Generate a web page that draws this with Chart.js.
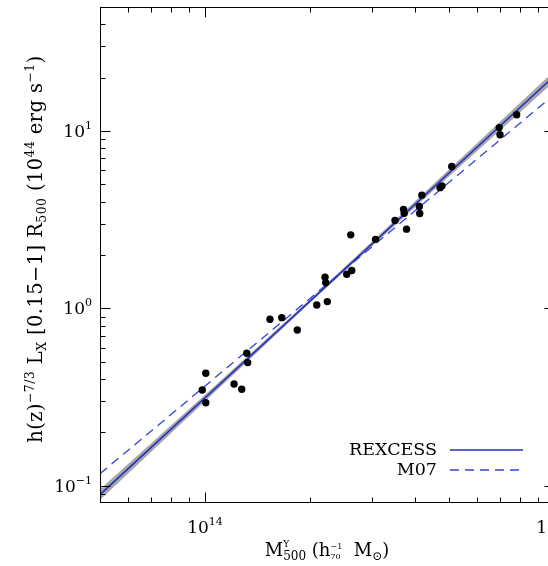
<!DOCTYPE html>
<html>
<head>
<meta charset="utf-8">
<script src="https://cdn.jsdelivr.net/npm/chart.js@4.4.0/dist/chart.umd.min.js"></script>
<style>
  html, body { margin: 0; padding: 0; background: #fff; overflow: hidden; }
  #wrap { width: 548px; height: 566px; overflow: hidden; }
</style>
</head>
<body>
<div id="wrap"><canvas id="chartLM" width="560" height="566"></canvas></div>
<script>
// data (mass in Msun, luminosity in 1e44 erg/s)
const massY = [1.005e14, 0.982e14, 1.005e14, 1.211e14, 1.274e14, 1.317e14, 1.325e14, 1.535e14,
  1.659e14, 1.838e14, 2.090e14, 2.241e14, 2.207e14, 2.217e14, 2.615e14, 2.633e14, 2.547e14,
  3.080e14, 3.503e14, 3.705e14, 3.722e14, 3.779e14, 4.112e14, 4.123e14, 4.181e14, 4.714e14,
  4.776e14, 5.093e14, 6.966e14, 7.003e14, 7.817e14];
const lumX = [0.431, 0.347, 0.294, 0.375, 0.350, 0.559, 0.495, 0.869,
  0.887, 0.756, 1.046, 1.092, 1.500, 1.398, 2.597, 1.634, 1.559,
  2.450, 3.128, 3.617, 3.434, 2.797, 3.752, 3.425, 4.350, 4.795,
  4.908, 6.305, 10.45, 9.52, 12.34];

// fitted relations (end points)
const fitMass = [5e13, 1e15];
const rexcessLum = [0.0892, 20.35];
const m07Lum = [0.117, 16.0];

// uncertainty band around REXCESS fit
const bandMass = [5e13, 1e14, 2e14, 4e14, 1e15];
const bandUpper = [0.0956, 0.326, 1.127, 4.015, 21.8];
const bandLower = [0.0832, 0.300, 1.077, 3.73, 18.98];

// ticks
const xMajorTicks = [1e14, 1e15];
const xMinorTicks = [6e13, 7e13, 8e13, 9e13, 2e14, 3e14, 4e14, 5e14, 6e14, 7e14, 8e14, 9e14];
const xTickLabels = [['10', '14'], ['10', '15']];
const yMajorTicks = [0.1, 1, 10];
const yMinorTicks = [0.09, 0.2, 0.3, 0.4, 0.5, 0.6, 0.7, 0.8, 0.9, 2, 3, 4, 5, 6, 7, 8, 9, 20, 30, 40];
const yTickLabels = [['10', '\u22121'], ['10', '0'], ['10', '1']];

const serif = '"DejaVu Serif", serif';
const blue = '#2430c0';

function pairs(xs, ys) {
  return xs.map((v, i) => ({ x: v, y: ys[i] }));
}

function runWidth(ctx, r) {
  if (r.stack) return Math.max(...r.stack.map(s => runWidth(ctx, s)));
  ctx.font = r.size + 'px ' + serif;
  return ctx.measureText(r.t).width;
}

function drawRich(ctx, runs, x, y, align) {
  const total = runs.reduce((a, r) => a + runWidth(ctx, r), 0);
  let cx = align === 'center' ? x - total / 2 : (align === 'right' ? x - total : x);
  ctx.textAlign = 'left';
  ctx.textBaseline = 'alphabetic';
  runs.forEach(r => {
    const w = runWidth(ctx, r);
    (r.stack || [r]).forEach(s => {
      ctx.font = s.size + 'px ' + serif;
      ctx.fillText(s.t, cx, y + (s.dy || 0));
    });
    cx += w;
  });
}

// frame with inward ticks on all four sides
const frameTicks = {
  id: 'frameTicks',
  afterDatasetsDraw(chart) {
    const { ctx, chartArea: a, scales: { x, y } } = chart;
    const L = Math.round(a.left) + 0.5, R = Math.round(a.right) + 0.5;
    const T = Math.round(a.top) + 0.5, B = Math.round(a.bottom) - 0.5;
    ctx.save();
    ctx.strokeStyle = '#000';
    ctx.lineWidth = 1;
    ctx.strokeRect(L, T, R - L, B - T);
    ctx.beginPath();
    const xt = (v, len) => {
      const p = Math.round(x.getPixelForValue(v)) + 0.5;
      ctx.moveTo(p, B); ctx.lineTo(p, B - len);
      ctx.moveTo(p, T); ctx.lineTo(p, T + len);
    };
    const yt = (v, len) => {
      const p = Math.round(y.getPixelForValue(v)) + 0.5;
      ctx.moveTo(L, p); ctx.lineTo(L + len, p);
      ctx.moveTo(R, p); ctx.lineTo(R - len, p);
    };
    xMajorTicks.forEach(v => xt(v, 10));
    xMinorTicks.forEach(v => xt(v, 5));
    yMajorTicks.forEach(v => yt(v, 10));
    yMinorTicks.forEach(v => yt(v, 5));
    ctx.stroke();
    ctx.restore();
  },
  afterDraw(chart) {
    const { ctx, chartArea: a, scales: { x, y } } = chart;
    ctx.save();
    ctx.fillStyle = '#000';

    // tick labels
    xMajorTicks.forEach((v, i) => {
      drawRich(ctx, [{ t: xTickLabels[i][0], size: 17 }, { t: xTickLabels[i][1], size: 11, dy: -8 }],
        x.getPixelForValue(v), 533, 'center');
    });
    yMajorTicks.forEach((v, i) => {
      drawRich(ctx, [{ t: yTickLabels[i][0], size: 17 }, { t: yTickLabels[i][1], size: 11, dy: -8 }],
        92, y.getPixelForValue(v) + 6, 'right');
    });

    // x title
    drawRich(ctx, [
      { t: 'M', size: 18 },
      { stack: [{ t: 'Y', size: 9, dy: -9 }, { t: '500', size: 12, dy: 4 }] },
      { t: ' (h', size: 18 },
      { stack: [{ t: '\u22121', size: 8, dy: -7 }, { t: '70', size: 8, dy: 3 }] },
      { t: '  M', size: 18 },
      { t: '\u2299', size: 12, dy: 4 },
      { t: ')', size: 18 }
    ], (a.left + a.right) / 2, 556, 'center');

    // y title (rotated)
    ctx.translate(42, 249);
    ctx.rotate(-Math.PI / 2);
    ctx.letterSpacing = '0.4px';
    drawRich(ctx, [
      { t: 'h(z)', size: 19.5 },
      { t: '\u22127/3', size: 12.5, dy: -8 },
      { t: ' L', size: 19.5 },
      { t: 'X', size: 12.5, dy: 4 },
      { t: ' [0.15\u22121] R', size: 19.5 },
      { t: '500', size: 12.5, dy: 4 },
      { t: ' (10', size: 19.5 },
      { t: '44', size: 12.5, dy: -8 },
      { t: ' erg s', size: 19.5 },
      { t: '\u22121', size: 12.5, dy: -8 },
      { t: ')', size: 19.5 }
    ], 0, 0, 'center');
    ctx.letterSpacing = '0px';
    ctx.setTransform(1, 0, 0, 1, 0, 0);

    // legend
    const items = chart.data.datasets.filter(d => d.label === 'REXCESS' || d.label === 'M07');
    items.forEach((d, i) => {
      const base = 455 + i * 20;
      ctx.font = '17.5px ' + serif;
      ctx.textAlign = 'right';
      ctx.fillStyle = '#000';
      ctx.fillText(d.label, 437, base);
      ctx.beginPath();
      ctx.strokeStyle = d.borderColor;
      ctx.lineWidth = d.borderWidth;
      ctx.setLineDash(d.borderDash || []);
      ctx.moveTo(450, base - 5);
      ctx.lineTo(523, base - 5);
      ctx.stroke();
      ctx.setLineDash([]);
    });
    ctx.restore();
  }
};

new Chart(document.getElementById('chartLM'), {
  type: 'line',
  data: {
    datasets: [
      {
        label: 'clusters',
        data: pairs(massY, lumX),
        showLine: false,
        pointRadius: 3.7,
        pointBackgroundColor: '#000',
        pointBorderWidth: 0,
        order: 0
      },
      {
        label: 'REXCESS',
        data: pairs(fitMass, rexcessLum),
        borderColor: blue,
        borderWidth: 1.6,
        pointRadius: 0,
        order: 1
      },
      {
        label: 'M07',
        data: pairs(fitMass, m07Lum),
        borderColor: '#3444d8',
        borderWidth: 1.3,
        borderDash: [9, 6],
        pointRadius: 0,
        order: 2
      },
      {
        label: 'band upper',
        data: pairs(bandMass, bandUpper),
        borderWidth: 0,
        pointRadius: 0,
        backgroundColor: '#a8a8a8',
        fill: '+1',
        order: 3
      },
      {
        label: 'band lower',
        data: pairs(bandMass, bandLower),
        borderWidth: 0,
        pointRadius: 0,
        order: 4
      }
    ]
  },
  options: {
    responsive: false,
    animation: false,
    devicePixelRatio: 1,
    layout: { padding: { left: 100, right: 6, top: 7, bottom: 63 } },
    scales: {
      x: { type: 'logarithmic', min: 5e13, max: 1e15, display: false },
      y: { type: 'logarithmic', min: 0.08, max: 50, display: false }
    },
    plugins: {
      legend: { display: false },
      tooltip: { enabled: false }
    }
  },
  plugins: [frameTicks]
});
</script>
</body>
</html>
